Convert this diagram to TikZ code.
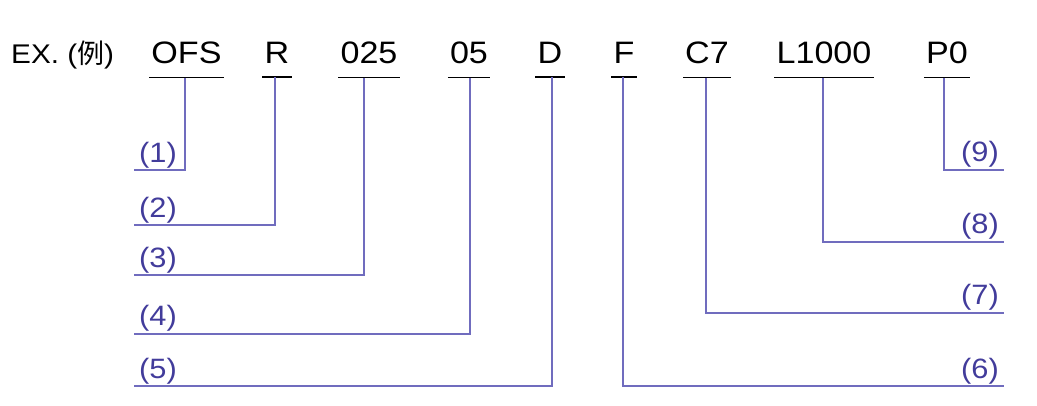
\documentclass[tikz,border=0pt]{standalone}
\usepackage{fontspec}
\setmainfont{Liberation Sans}[FakeStretch=1.1]
\newfontfamily\cjk{Noto Sans CJK SC}
\usetikzlibrary{calc}
\definecolor{linepurple}{RGB}{112,108,190}
\definecolor{labpurple}{RGB}{66,60,155}
\begin{document}
\begin{tikzpicture}[x=1pt,y=-1pt,
  code/.style={anchor=base,inner xsep=2pt,inner ysep=13pt,font=\fontsize{31}{31}\selectfont,text=black},
  ex/.style={anchor=base west,inner sep=0pt,font=\fontsize{27}{27}\selectfont,text=black},
  ul/.style={draw=black,line width=1.8pt},
  conn/.style={draw=linepurple,line width=1.8pt},
  lab/.style={inner sep=0pt,font=\fontsize{28}{28}\selectfont,text=labpurple},
  labL/.style={lab,anchor=base west},
  labR/.style={lab,anchor=base east}]
\useasboundingbox (0,0) rectangle (1037,406);
% title row
\node[ex] (ex) at (11,64) {EX. ({\cjk 例})};
\node[code] (c1) at (186.5,64) {OFS};
\node[code] (c2) at (277,64) {R};
\node[code] (c3) at (369,64) {025};
\node[code] (c4) at (469,64) {05};
\node[code] (c5) at (550,64) {D};
\node[code] (c6) at (624,64) {F};
\node[code] (c7) at (707,64) {C7};
\node[code] (c8) at (824,64) {L1000};
\node[code] (c9) at (947,64) {P0};
% underlines
\foreach \i in {1,...,9}{\draw[ul] (c\i.south west) -- (c\i.south east);}
% corners and free ends
\coordinate (k1) at (185,170);   \coordinate (e1) at (134,170);
\coordinate (k2) at (275,225);   \coordinate (e2) at (134,225);
\coordinate (k3) at (364,275);   \coordinate (e3) at (134,275);
\coordinate (k4) at (470,334);   \coordinate (e4) at (134,334);
\coordinate (k5) at (552,386);   \coordinate (e5) at (134,386);
\coordinate (k6) at (623,386);   \coordinate (e6) at (1004,386);
\coordinate (k7) at (706,313);   \coordinate (e7) at (1004,313);
\coordinate (k8) at (823,242);   \coordinate (e8) at (1004,242);
\coordinate (k9) at (944,170);   \coordinate (e9) at (1004,170);
% connectors
\foreach \i in {1,...,9}{\draw[conn,line join=miter] (c\i.south -| k\i) -- (k\i) -- (e\i);}
% labels
\node[labL] (l1) at ($(e1)+(5,-7)$) {(1)};
\node[labL] (l2) at ($(e2)+(5,-7)$) {(2)};
\node[labL] (l3) at ($(e3)+(5,-7)$) {(3)};
\node[labL] (l4) at ($(e4)+(5,-8)$) {(4)};
\node[labL] (l5) at ($(e5)+(5,-8)$) {(5)};
\node[labR] (l6) at ($(e6)+(-5,-8)$) {(6)};
\node[labR] (l7) at ($(e7)+(-5,-8)$) {(7)};
\node[labR] (l8) at ($(e8)+(-5,-8)$) {(8)};
\node[labR] (l9) at ($(e9)+(-5,-8)$) {(9)};
\end{tikzpicture}
\end{document}
